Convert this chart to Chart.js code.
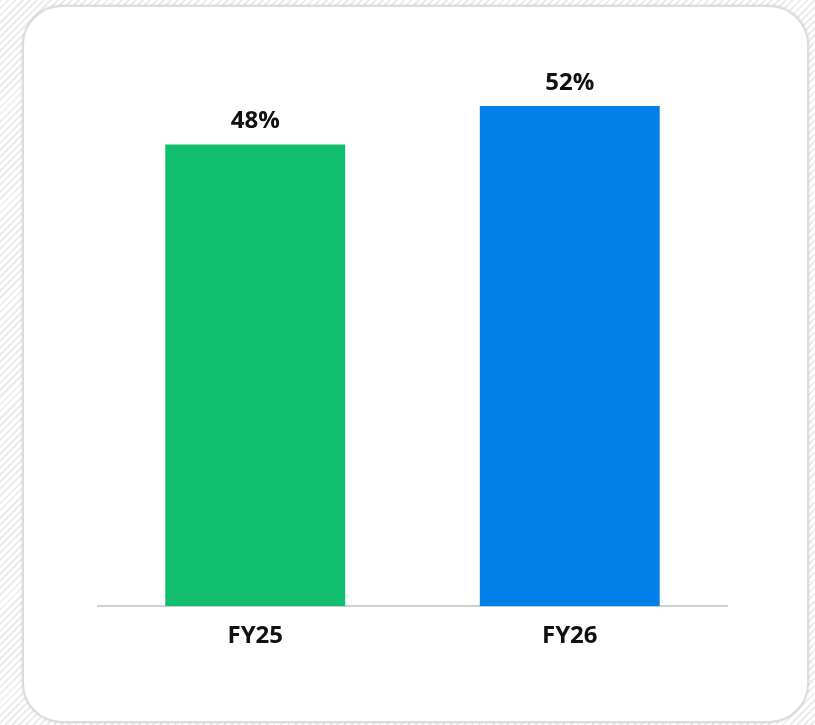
<!DOCTYPE html>
<html>
<head>
<meta charset="utf-8">
<script src="https://cdn.jsdelivr.net/npm/chart.js@4"></script>
<style>
  html, body {
    margin: 0;
    padding: 0;
    width: 815px;
    height: 725px;
    overflow: hidden;
    background-color: #fff;
    background-image: repeating-linear-gradient(135deg, #ececec 0px, #ececec 2px, #ffffff 2px, #ffffff 5px);
  }
  .card {
    position: absolute;
    left: 22px;
    top: 5px;
    width: 783px;
    height: 714px;
    background: #fff;
    border: 2px solid #dcdcdc;
    border-radius: 40px;
    box-shadow: 0 0 3px rgba(0, 0, 0, 0.12);
  }
  #wrap {
    position: absolute;
    left: 0;
    top: 0;
    width: 815px;
    height: 725px;
  }
</style>
</head>
<body>
<div class="card"></div>
<div id="wrap"><canvas id="barChart"></canvas></div>
<script>
// 데이터
const categories = ['FY25', 'FY26'];
const values = [48, 52];
const barColors = ['#10be6e', '#0080e8'];

const fontFamily = "'Open Sans', 'Noto Sans', sans-serif";

// 막대 위 값 표시
const valueLabels = {
  id: 'valueLabels',
  afterDatasetsDraw(chart) {
    const ctx = chart.ctx;
    const meta = chart.getDatasetMeta(0);
    ctx.save();
    ctx.font = 'bold 24px ' + fontFamily;
    ctx.fillStyle = '#111';
    ctx.textAlign = 'center';
    ctx.textBaseline = 'alphabetic';
    meta.data.forEach((bar, i) => {
      ctx.fillText(values[i] + '%', bar.x, bar.y - 16);
    });
    ctx.restore();
  }
};

const ctx = document.getElementById('barChart').getContext('2d');
new Chart(ctx, {
  type: 'bar',
  data: {
    labels: categories,
    datasets: [{
      data: values,
      backgroundColor: barColors,
      borderWidth: 0,
      barPercentage: 0.572,
      categoryPercentage: 1
    }]
  },
  options: {
    responsive: true,
    maintainAspectRatio: false,
    animation: false,
    layout: {
      padding: { left: 98, right: 88, top: 29, bottom: 66 }
    },
    scales: {
      x: {
        grid: { display: false },
        border: { display: true, color: '#d0d0d0', width: 2 },
        ticks: {
          color: '#111',
          padding: 8,
          font: { size: 24, weight: 'bold', family: fontFamily }
        }
      },
      y: {
        display: false,
        min: 0,
        max: 60
      }
    },
    plugins: {
      legend: { display: false },
      tooltip: { enabled: false }
    }
  },
  plugins: [valueLabels]
});
</script>
</body>
</html>
